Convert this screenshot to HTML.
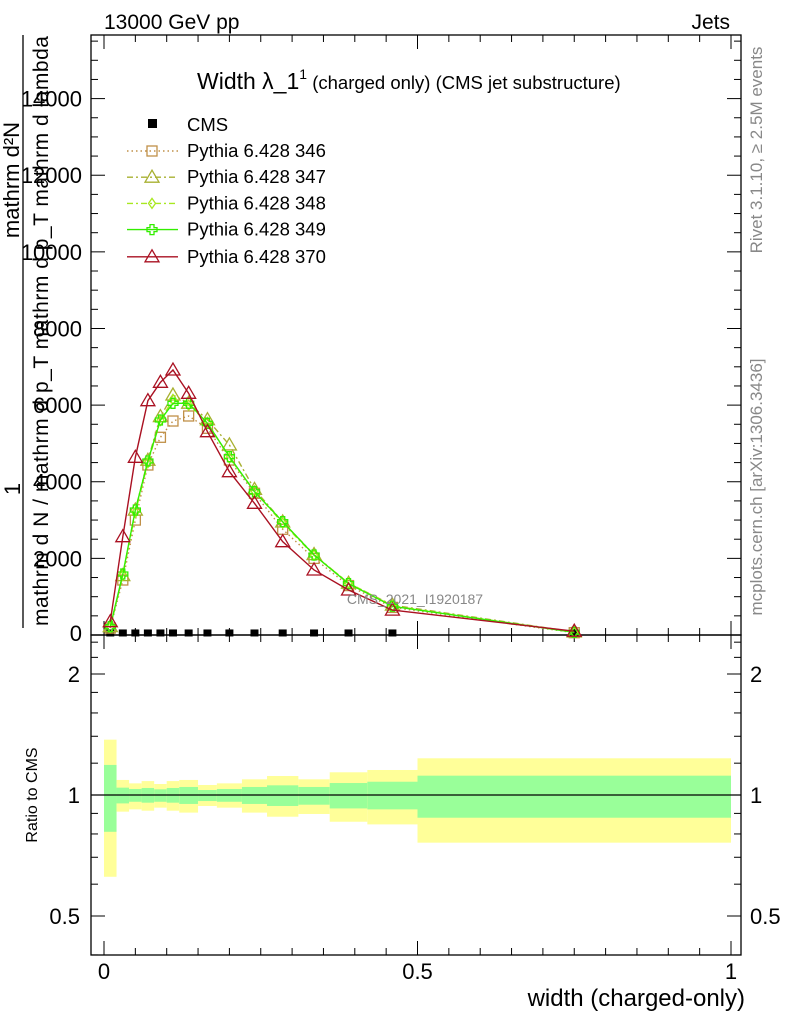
<!DOCTYPE html>
<html><head><meta charset="utf-8"><style>
body{margin:0;background:#fff}
svg{display:block;font-family:"Liberation Sans",sans-serif}
</style></head><body>
<svg id="c" width="786" height="1024" xmlns="http://www.w3.org/2000/svg"></svg>
<script>
const edges=[0,0.02,0.04,0.06,0.08,0.1,0.12,0.15,0.18,0.22,0.26,0.31,0.36,0.42,0.5,1.0];
const xs=[0.01,0.03,0.05,0.07,0.09,0.11,0.135,0.165,0.2,0.24,0.285,0.335,0.39,0.46,0.75];
const cms=[40,40,40,40,40,40,40,40,40,40,40,40,40,40,40];
const p346=[180,1435,3000,4437,5160,5585,5716,5395,4567,3698,2759,2000,1290,720,60];
const p347=[220,1550,3260,4560,5700,6264,6050,5620,4960,3800,2950,2100,1350,780,80];
const p348=[200,1560,3200,4500,5600,6150,6000,5550,4620,3760,2920,2080,1360,760,70];
const p349=[217,1592,3262,4541,5611,6047,6047,5525,4654,3740,2957,2088,1340,750,70];
const p370=[347,2566,4638,6115,6595,6916,6308,5306,4262,3437,2435,1697,1175,650,100];
const yelHi=[1.373,1.090,1.069,1.083,1.065,1.083,1.090,1.059,1.069,1.094,1.115,1.094,1.139,1.154,1.234];
const yelLo=[0.626,0.909,0.921,0.914,0.930,0.914,0.904,0.939,0.930,0.904,0.883,0.897,0.858,0.845,0.761];
const grnHi=[1.188,1.043,1.035,1.041,1.033,1.041,1.047,1.029,1.035,1.047,1.057,1.047,1.071,1.079,1.117];
const grnLo=[0.810,0.953,0.962,0.957,0.962,0.957,0.950,0.966,0.962,0.950,0.939,0.946,0.926,0.921,0.878];
const yTicks=[2000,4000,6000,8000,10000,12000,14000];
const rTicks=[0.5,1,2];

const S=document.getElementById('c');const NS='http://www.w3.org/2000/svg';
function el(t,a,p){const e=document.createElementNS(NS,t);for(const k in a)e.setAttribute(k,a[k]);(p||S).appendChild(e);return e;}
const L=91,R=741,T=35,MB=635,RB=955;
const X=v=>104+v*627;
const Y=v=>635-v/26.1;
const RY=v=>795-Math.log2(v)*121;

for(let i=0;i<xs.length;i++){
 let r=el('rect',{x:X(edges[i]),y:RY(yelHi[i]),width:X(edges[i+1])-X(edges[i]),height:RY(yelLo[i])-RY(yelHi[i]),fill:'#ffff99'});
 
 let g=el('rect',{x:X(edges[i]),y:RY(grnHi[i]),width:X(edges[i+1])-X(edges[i]),height:RY(grnLo[i])-RY(grnHi[i]),fill:'#99ff99'});
 
}
let ref=el('line',{x1:L,x2:R,y1:RY(1),y2:RY(1),stroke:'#000','stroke-width':1.2});


for(const [t,b,n] of [[T,MB,'main-frame'],[MB,RB,'ratio-frame']]){
 let f=el('rect',{x:L,y:t,width:R-L,height:b-t,fill:'none',stroke:'#000','stroke-width':1.3});
 
}
for(let v=0;v<=15500;v+=500){const y=Y(v);const len=v%2000==0?14:7;
 el('line',{x1:L,x2:L+len,y1:y,y2:y,stroke:'#000'});el('line',{x1:R,x2:R-len,y1:y,y2:y,stroke:'#000'});}
yTicks.forEach(v=>{let t=el('text',{x:82,y:Y(v)+8,'text-anchor':'end','font-size':22});t.textContent=v;
 });
let z=el('text',{x:82,y:641,'text-anchor':'end','font-size':22});z.textContent='0';
for(const v of [0.4,0.5,0.6,0.7,0.8,0.9,1,1.2,1.4,1.6,1.8,2,2.2,2.4]){const y=RY(v);const len=[0.5,1,2].includes(v)?14:7;
 el('line',{x1:L,x2:L+len,y1:y,y2:y,stroke:'#000'});el('line',{x1:R,x2:R-len,y1:y,y2:y,stroke:'#000'});}
rTicks.forEach(v=>{let t=el('text',{x:80,y:RY(v)+8,'text-anchor':'end','font-size':22});t.textContent=v;
 
 let t2=el('text',{x:750,y:RY(v)+8,'font-size':22});t2.textContent=v;
 });
for(let v=0;v<=1.0001;v+=0.05){const x=X(v);const len=Math.abs(v*2-Math.round(v*2))<1e-6?14:7;
 for(const [b,t] of [[MB,T],[RB,MB]]){el('line',{x1:x,x2:x,y1:b,y2:b-len,stroke:'#000'});el('line',{x1:x,x2:x,y1:t,y2:t+len,stroke:'#000'});}}
[[0,'0'],[0.5,'0.5'],[1,'1']].forEach(([v,s])=>{let t=el('text',{x:X(v),y:979,'text-anchor':'middle','font-size':22});t.textContent=s;
 });

const series=[[p346,'#c09048','1.5,3','sq','346'],[p347,'#a8b030','6,3,2,3','tri','347'],[p348,'#a8e820','6,3,2,3','dia','348'],[p349,'#33ee00','','cross','349'],[p370,'#aa1122','','tri','370']];
function marker(kind,x,y,c,g){
 if(kind=='sq')el('rect',{x:x-5,y:y-5,width:10,height:10,fill:'none',stroke:c,'stroke-width':1.3},g);
 else if(kind=='tri')el('polygon',{points:`${x},${y-7} ${x-7},${y+5} ${x+7},${y+5}`,fill:'none',stroke:c,'stroke-width':1.3},g);
 else if(kind=='dia')el('polygon',{points:`${x},${y-5} ${x-3.5},${y} ${x},${y+5} ${x+3.5},${y}`,fill:'none',stroke:c,'stroke-width':1.3},g);
 else if(kind=='cross')el('path',{d:`M${x-2},${y-5}h4v3h3v4h-3v3h-4v-3h-3v-4h3z`,fill:'none',stroke:c,'stroke-width':1.3},g);
}
const cg=el('g',{});
cms.forEach((v,i)=>el('rect',{x:X(xs[i])-4,y:Y(v)-4,width:8,height:7,fill:'#000'},cg));
series.forEach(([d,c,da,m,n])=>{
 const g=el('g',{});
 el('polyline',{points:d.map((v,i)=>X(xs[i])+','+Y(v)).join(' '),fill:'none',stroke:c,'stroke-width':1.4,'stroke-dasharray':da},g);
 d.forEach((v,i)=>marker(m,X(xs[i]),Y(v),c,g));
});

const lg=el('g',{});
el('rect',{x:148,y:119,width:9,height:9,fill:'#000'},lg);
let lt=el('text',{x:187,y:131,'font-size':18.5},lg);lt.textContent='CMS';
series.forEach(([d,c,da,m,n],i)=>{const y=151+i*26.2+(i==4?1:0);
 el('line',{x1:127,x2:178,y1:y,y2:y,stroke:c,'stroke-width':1.4,'stroke-dasharray':da},lg);
 marker(m,152,y,c,lg);
 let t=el('text',{x:187,y:y+6,'font-size':18.5},lg);t.textContent='Pythia 6.428 '+n;});

function txt(s,a,name){let t=el('text',a);t.textContent=s;return t;}
txt('13000 GeV pp',{x:104,y:29,'font-size':21},'energy-label');
txt('Jets',{x:730,y:29,'font-size':21,'text-anchor':'end'},'process-label');
let ti=txt('',{x:197,y:89,'font-size':23},'plot-title');
ti.innerHTML='Width λ_1<tspan font-size="14" dy="-10">1</tspan><tspan font-size="18.5" dy="10"> (charged only) (CMS jet substructure)</tspan>';
txt('width (charged-only)',{x:745,y:1006,'font-size':24,'text-anchor':'end'},'x-axis-title');
txt('Ratio to CMS',{x:0,y:0,'font-size':16,'text-anchor':'middle',transform:'translate(37,795) rotate(-90)'},'ratio-axis-title');
txt('Rivet 3.1.10, ≥ 2.5M events',{x:0,y:0,'font-size':17,fill:'#888','text-anchor':'middle',transform:'translate(762,150) rotate(-90)'},'rivet-label');
txt('mcplots.cern.ch [arXiv:1306.3436]',{x:0,y:0,'font-size':17,fill:'#888','text-anchor':'middle',transform:'translate(762,487) rotate(-90)'},'mcplots-label');
txt('CMS_2021_I1920187',{x:415,y:604,'font-size':14,fill:'#888','text-anchor':'middle'},'analysis-watermark');
txt('1',{x:0,y:0,'font-size':22,'text-anchor':'middle',transform:'translate(20,489) rotate(-90)'},'y-title-one');
el('line',{x1:23,x2:23,y1:35,y2:628,stroke:'#000','stroke-width':1.3});
txt('mathrm d²N',{x:0,y:0,'font-size':22,'text-anchor':'middle',transform:'translate(19,180) rotate(-90)'},'y-title-numerator');
txt('mathrm d N / mathrm d p_T mathrm d p_T mathrm d lambda',{x:0,y:0,'font-size':21,'text-anchor':'middle',textLength:590,transform:'translate(48,331) rotate(-90)'},'y-title-denominator');
</script>
</body></html>
